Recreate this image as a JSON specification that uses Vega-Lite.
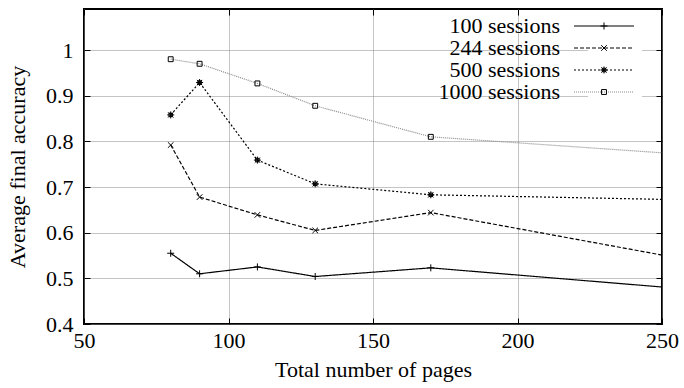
{
  "$schema": "https://vega.github.io/schema/vega-lite/v6.json",
  "width": 578,
  "height": 315,
  "autosize": {"type": "none"},
  "padding": {"left": 84, "top": 9, "right": 22, "bottom": 64},
  "background": "white",
  "config": {"font": "Liberation Serif, Times New Roman, serif", "view": {"stroke": "black", "strokeWidth": 2}},
  "data": {"values": [
    {"series": "100 sessions", "pages": 80, "accuracy": 0.555},
    {"series": "100 sessions", "pages": 90, "accuracy": 0.510},
    {"series": "100 sessions", "pages": 110, "accuracy": 0.525},
    {"series": "100 sessions", "pages": 130, "accuracy": 0.504},
    {"series": "100 sessions", "pages": 170, "accuracy": 0.523},
    {"series": "100 sessions", "pages": 250, "accuracy": 0.481},
    {"series": "244 sessions", "pages": 80, "accuracy": 0.792},
    {"series": "244 sessions", "pages": 90, "accuracy": 0.678},
    {"series": "244 sessions", "pages": 110, "accuracy": 0.639},
    {"series": "244 sessions", "pages": 130, "accuracy": 0.605},
    {"series": "244 sessions", "pages": 170, "accuracy": 0.644},
    {"series": "244 sessions", "pages": 250, "accuracy": 0.551},
    {"series": "500 sessions", "pages": 80, "accuracy": 0.858},
    {"series": "500 sessions", "pages": 90, "accuracy": 0.929},
    {"series": "500 sessions", "pages": 110, "accuracy": 0.759},
    {"series": "500 sessions", "pages": 130, "accuracy": 0.707},
    {"series": "500 sessions", "pages": 170, "accuracy": 0.683},
    {"series": "500 sessions", "pages": 250, "accuracy": 0.673},
    {"series": "1000 sessions", "pages": 80, "accuracy": 0.980},
    {"series": "1000 sessions", "pages": 90, "accuracy": 0.970},
    {"series": "1000 sessions", "pages": 110, "accuracy": 0.927},
    {"series": "1000 sessions", "pages": 130, "accuracy": 0.878},
    {"series": "1000 sessions", "pages": 170, "accuracy": 0.810},
    {"series": "1000 sessions", "pages": 250, "accuracy": 0.775}
  ]},
  "layer": [
    {
      "mark": {"type": "line", "strokeWidth": 1.2},
      "encoding": {
        "x": {"field": "pages", "type": "quantitative", "scale": {"domain": [50, 250], "nice": false},
          "axis": {"orient": "bottom", "values": [50, 100, 150, 200, 250], "grid": true, "gridColor": "#888888", "gridDash": [1, 1], "domain": false,
            "tickSize": -6, "tickColor": "black", "labelPadding": 12, "labelFontSize": 22, "labelColor": "black", "labelFlush": false,
            "labelFont": "Liberation Serif, Times New Roman, serif", "titleFont": "Liberation Serif, Times New Roman, serif",
            "title": "Total number of pages", "titleFontSize": 22, "titleFontWeight": "normal", "titleColor": "black", "titlePadding": 8}},
        "y": {"field": "accuracy", "type": "quantitative", "scale": {"domain": [0.4, 1.09], "nice": false, "zero": false},
          "axis": {"orient": "left", "values": [0.4, 0.5, 0.6, 0.7, 0.8, 0.9, 1.0], "format": ".1~f", "grid": true, "gridColor": "#888888", "gridDash": [1, 1], "domain": false,
            "tickSize": -6, "tickColor": "black", "labelPadding": 17, "labelFontSize": 22, "labelColor": "black", "labelFlush": false,
            "labelFont": "Liberation Serif, Times New Roman, serif", "titleFont": "Liberation Serif, Times New Roman, serif",
            "title": "Average final accuracy", "titleFontSize": 22, "titleFontWeight": "normal", "titleColor": "black", "titlePadding": 16}},
        "color": {"field": "series", "type": "nominal",
          "scale": {"domain": ["100 sessions", "244 sessions", "500 sessions", "1000 sessions"], "range": ["black", "black", "black", "#8a8a8a"]},
          "legend": {"title": null, "orient": "none", "legendX": 504, "legendY": 1, "padding": 5, "fillColor": "white",
            "symbolType": "M-8.57,0H8.57", "symbolSize": 49, "symbolStrokeWidth": 1.2, "labelAlign": "right", "labelOffset": -55,
            "labelFontSize": 22, "labelFont": "Liberation Serif, Times New Roman, serif", "labelColor": "black", "rowPadding": 0, "labelLimit": 300, "zindex": 1}},
        "strokeDash": {"field": "series", "type": "nominal",
          "scale": {"domain": ["100 sessions", "244 sessions", "500 sessions", "1000 sessions"], "range": [[1, 0], [4, 2], [2, 2], [1, 1]]},
          "legend": {"title": null, "orient": "none", "legendX": 504, "legendY": 1, "padding": 5, "fillColor": "white",
            "symbolType": "M-8.57,0H8.57", "symbolSize": 49, "symbolStrokeWidth": 1.2, "labelAlign": "right", "labelOffset": -55,
            "labelFontSize": 22, "labelFont": "Liberation Serif, Times New Roman, serif", "labelColor": "black", "rowPadding": 0, "labelLimit": 300, "zindex": 1}}
      }
    },
    {
      "transform": [{"filter": "datum.pages < 250"}],
      "mark": {"type": "point", "filled": false, "stroke": "black", "strokeWidth": 1, "size": 49, "opacity": 1},
      "encoding": {
        "x": {"field": "pages", "type": "quantitative",
          "axis": {"orient": "top", "values": [50, 100, 150, 200, 250], "labels": false, "grid": false, "domain": false, "tickSize": -6, "tickColor": "black", "title": null}},
        "y": {"field": "accuracy", "type": "quantitative",
          "axis": {"orient": "right", "values": [0.4, 0.5, 0.6, 0.7, 0.8, 0.9, 1.0], "labels": false, "grid": false, "domain": false, "tickSize": -6, "tickColor": "black", "title": null}},
        "shape": {"field": "series", "type": "nominal",
          "sort": ["100 sessions", "244 sessions", "500 sessions", "1000 sessions"],
          "scale": {"range": ["M-1,0H1M0,-1V1", "M-0.8,-0.8L0.8,0.8M-0.8,0.8L0.8,-0.8", "M-1,0H1M0,-1V1M-0.75,-0.75L0.75,0.75M-0.75,0.75L0.75,-0.75M-0.5,-0.5H0.5V0.5H-0.5Z", "M-0.7,-0.7H0.7V0.7H-0.7Z"]},
          "legend": {"title": null, "orient": "none", "legendX": 504, "legendY": 1, "padding": 5, "fillColor": "transparent",
            "symbolSize": 49, "symbolStrokeWidth": 1, "symbolStrokeColor": "black", "symbolFillColor": "transparent",
            "labelAlign": "right", "labelOffset": -55, "labelExpr": "''",
            "labelFontSize": 22, "labelFont": "Liberation Serif, Times New Roman, serif", "labelColor": "black", "rowPadding": 0, "labelLimit": 300, "zindex": 2}}
      }
    }
  ]
}
